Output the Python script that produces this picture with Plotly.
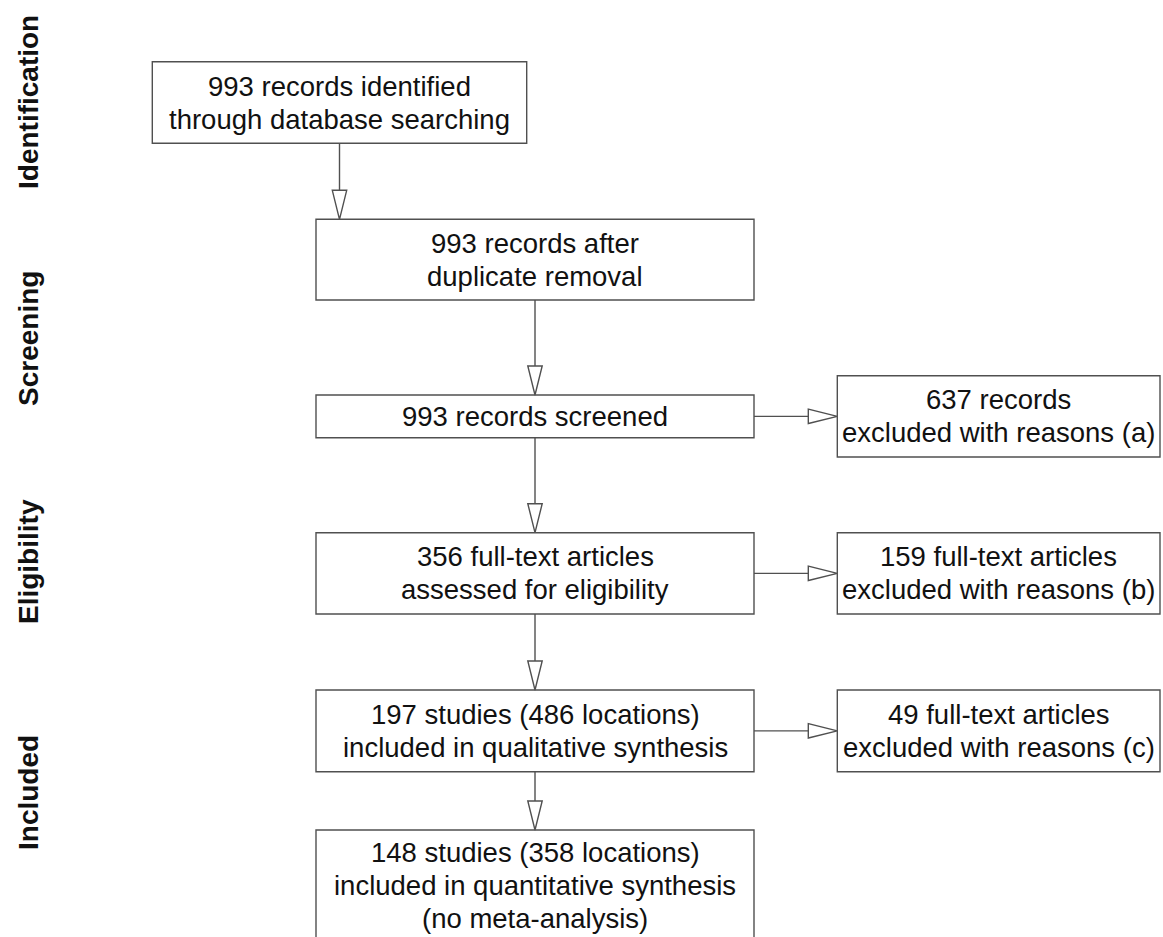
import plotly.graph_objects as go

# ---- data (content of the PRISMA flow diagram) ----
stage_labels = ["Identification", "Screening", "Eligibility", "Included"]

main_counts = [993, 993, 993, 356, 197, 148]
main_texts = [
    "{} records identified\nthrough database searching",
    "{} records after\nduplicate removal",
    "{} records screened",
    "{} full-text articles\nassessed for eligibility",
    "{} studies (486 locations)\nincluded in qualitative synthesis",
    "{} studies (358 locations)\nincluded in quantitative synthesis\n(no meta-analysis)",
]

excluded_counts = [637, 159, 49]
excluded_texts = [
    "{} records\nexcluded with reasons (a)",
    "{} full-text articles\nexcluded with reasons (b)",
    "{} full-text articles\nexcluded with reasons (c)",
]
# which main box each exclusion box branches from
excluded_from = [2, 3, 4]

# ---- layout geometry (pixels) ----
W, H = 1163, 937
main_geom = [  # x0, x1, y0, y1
    (152.3, 526.7, 61.7, 143.3),
    (316.0, 754.0, 219.3, 300.0),
    (316.0, 754.0, 395.0, 437.7),
    (316.0, 754.0, 532.7, 614.0),
    (316.0, 754.0, 690.0, 771.7),
    (316.0, 754.0, 830.0, 940.0),
]
excl_geom = [
    (837.3, 1160.0, 375.7, 457.0),
    (837.3, 1160.0, 532.7, 614.0),
    (837.3, 1160.0, 690.0, 771.7),
]
stage_pos = [(28, 102), (28, 339), (28, 562), (28, 793)]

LINE_COLOR = "#505050"
LINE_W = 1.4
FONT = "Liberation Sans, Arial, Helvetica, sans-serif"
FSIZE = 27.5
LINE_GAP = 33
HEAD_LEN = 29
HEAD_HW = 7.2

shapes = []
annotations = []


def add_box(g, text):
    x0, x1, y0, y1 = g
    shapes.append(dict(type="rect", xref="x", yref="y", x0=x0, x1=x1, y0=y0, y1=y1,
                       line=dict(color=LINE_COLOR, width=LINE_W), fillcolor="white", layer="below"))
    lines = text.split("\n")
    cx = (x0 + x1) / 2
    cy = (y0 + y1) / 2
    n = len(lines)
    for i, ln in enumerate(lines):
        yy = cy + (i - (n - 1) / 2) * LINE_GAP
        annotations.append(dict(x=cx, y=yy, xref="x", yref="y", text=ln, showarrow=False,
                                font=dict(family=FONT, size=FSIZE, color="#111111"),
                                xanchor="center", yanchor="middle"))


def arrow_v(x, y_start, y_end):
    base = y_end - HEAD_LEN
    shapes.append(dict(type="line", xref="x", yref="y", x0=x, x1=x, y0=y_start, y1=base,
                       line=dict(color=LINE_COLOR, width=LINE_W)))
    path = f"M {x - HEAD_HW},{base} L {x + HEAD_HW},{base} L {x},{y_end} Z"
    shapes.append(dict(type="path", xref="x", yref="y", path=path, fillcolor="white",
                       line=dict(color=LINE_COLOR, width=LINE_W)))


def arrow_h(y, x_start, x_end):
    base = x_end - HEAD_LEN
    shapes.append(dict(type="line", xref="x", yref="y", x0=x_start, x1=base, y0=y, y1=y,
                       line=dict(color=LINE_COLOR, width=LINE_W)))
    path = f"M {base},{y - HEAD_HW} L {base},{y + HEAD_HW} L {x_end},{y} Z"
    shapes.append(dict(type="path", xref="x", yref="y", path=path, fillcolor="white",
                       line=dict(color=LINE_COLOR, width=LINE_W)))


for g, c, t in zip(main_geom, main_counts, main_texts):
    add_box(g, t.format(c))
for g, c, t in zip(excl_geom, excluded_counts, excluded_texts):
    add_box(g, t.format(c))

# vertical connectors between main boxes
for a, b in zip(main_geom[:-1], main_geom[1:]):
    cx = (a[0] + a[1]) / 2
    arrow_v(cx, a[3], b[2])

# horizontal connectors to exclusion boxes
for src, g in zip(excluded_from, excl_geom):
    s = main_geom[src]
    cy = (s[2] + s[3]) / 2
    arrow_h(cy, s[1], g[0])

for lab, (x, y) in zip(stage_labels, stage_pos):
    annotations.append(dict(x=x, y=y, xref="x", yref="y", text=f"<b>{lab}</b>", showarrow=False,
                            textangle=-90, font=dict(family=FONT, size=28, color="#111111"),
                            xanchor="center", yanchor="middle"))

fig = go.Figure()
fig.update_layout(
    width=W, height=H,
    margin=dict(l=0, r=0, t=0, b=0),
    paper_bgcolor="white", plot_bgcolor="white",
    xaxis=dict(range=[0, W], visible=False, fixedrange=True),
    yaxis=dict(range=[H, 0], visible=False, fixedrange=True),
    shapes=shapes, annotations=annotations, showlegend=False,
)
fig.write_html("out.html", config={"displayModeBar": False},
               post_script="document.body.style.margin='0';")
